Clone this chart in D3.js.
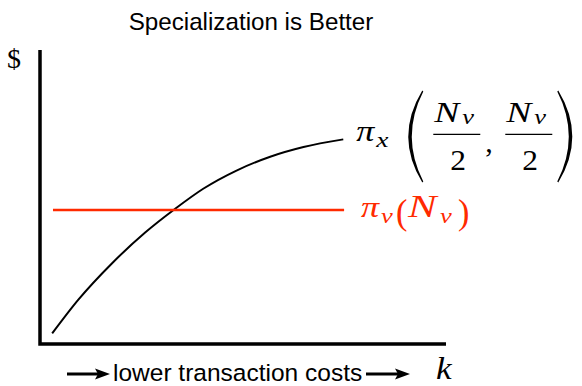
<!DOCTYPE html>
<html>
<head>
<meta charset="utf-8">
<script src="https://cdn.jsdelivr.net/npm/d3@7"></script>
<style>
	body { margin: 0; background: #fff; }
	svg { display: block; }
	.sans { font-family: "Liberation Sans", Arial, Helvetica, sans-serif; }
	.math { font-family: "Liberation Serif", "DejaVu Serif", serif; }
</style>
</head>
<body>
<svg id="chart" width="582" height="386"></svg>
<script>
// transaction-cost axis (k) and the payoff of specialization
const kValues = [0.30, 0.94, 1.77, 2.59, 3.33, 4.02, 4.84, 5.67, 6.49, 7.47];
const specialValues = [0.36, 1.50, 2.74, 3.79, 4.60, 5.28, 5.90, 6.37, 6.70, 6.96];
// vertical integration payoff is flat in k
const vertKRange = [0.32, 7.49];
const vertValue = 4.56;

const title = "Specialization is Better";
const xLabel = "lower transaction costs";

const svg = d3.select("#chart");

const x = d3.scaleLinear().domain([0, 10]).range([40, 446]);
const y = d3.scaleLinear().domain([0, 10]).range([344, 50]);

const RED = "#ff2a00";

// title
svg.append("text")
	.attr("class", "sans")
	.attr("x", 251).attr("y", 30)
	.attr("text-anchor", "middle")
	.style("font-size", "24.2px")
	.text(title);

// axes: plain L shaped frame, no ticks
svg.append("path")
	.attr("d", "M" + x(0) + "," + y(10) + " V" + y(0) + " H" + x(10))
	.attr("fill", "none")
	.attr("stroke", "#000")
	.attr("stroke-width", 3.5);

// the two payoff lines
const line = d3.line()
	.x((d, i) => x(kValues[i]))
	.y(d => y(d))
	.curve(d3.curveMonotoneX);

svg.append("path")
	.datum(specialValues)
	.attr("d", line)
	.attr("fill", "none")
	.attr("stroke", "#000")
	.attr("stroke-width", 2);

svg.append("line")
	.attr("x1", x(vertKRange[0])).attr("x2", x(vertKRange[1]))
	.attr("y1", y(vertValue)).attr("y2", y(vertValue))
	.attr("stroke", RED)
	.attr("stroke-width", 2.5);

// one math glyph; sx widens the Times-like letters towards Computer Modern
function glyph(g, ch, gx, gy, size, italic, sx) {
	return g.append("text")
		.attr("transform", "translate(" + gx + "," + gy + ") scale(" + (sx || 1) + ",1)")
		.style("font-size", size + "px")
		.style("font-style", italic ? "italic" : "normal")
		.text(ch);
}

// $ label
glyph(svg.append("g").attr("class", "math"), "$", 7, 68, 28, false, 1);

// --- label of the specialization curve: pi_x(N_v/2, N_v/2)
const endX = x(kValues[kValues.length - 1]);
const endY = y(specialValues[specialValues.length - 1]);
const bx = endX + 13, by = endY + 2;   // baseline of pi
const barY = by - 7;                    // fraction bars

const lab = svg.append("g").attr("class", "math").attr("fill", "#000");

glyph(lab, "π", bx, by, 30, true, 1.2);
glyph(lab, "x", bx + 20, by + 6, 22, true, 1.25);

function paren(g, ex, dir, top, bot) {
	// thin crescent: ex = x of the two tips, dir -1 for "(", +1 for ")"
	const mid = (top + bot) / 2;
	const co = ex + dir * 28, ci = ex + dir * 22;
	g.append("path")
		.attr("d", "M" + ex + "," + top +
			" Q" + co + "," + mid + " " + ex + "," + bot +
			" L" + (ex - dir * 1) + "," + (bot - 1) +
			" Q" + ci + "," + mid + " " + (ex - dir * 1) + "," + (top + 1) + " Z");
}

function fraction(left) {
	glyph(lab, "N", left + 1, barY - 12, 30, true, 1.25);
	glyph(lab, "v", left + 29, barY - 10, 22, true, 1.2);
	lab.append("line")
		.attr("x1", left).attr("x2", left + 47)
		.attr("y1", barY).attr("y2", barY)
		.attr("stroke", "#000").attr("stroke-width", 1.3);
	glyph(lab, "2", left + 17, barY + 36, 30, false, 1.05);
}

paren(lab, bx + 66, -1, barY - 44, barY + 48);
fraction(bx + 77);
glyph(lab, ",", bx + 129, barY + 18, 30, false, 1);
fraction(bx + 149);
paren(lab, bx + 202, 1, barY - 44, barY + 48);

// --- label of the vertical integration line: pi_v(N_v)
const rx = x(vertKRange[1]) + 17, ry = y(vertValue) + 7;
const red = svg.append("g").attr("class", "math").attr("fill", RED);
glyph(red, "π", rx, ry, 30, true, 1.2);
glyph(red, "v", rx + 20, ry + 6, 22, true, 1.2);
glyph(red, "(", rx + 35, ry + 7, 36, false, 0.95);
glyph(red, "N", rx + 47, ry, 31, true, 1.38);
glyph(red, "v", rx + 79, ry + 6, 22, true, 1.2);
glyph(red, ")", rx + 97, ry + 7, 36, false, 0.95);

// --- x axis caption with arrows
const capY = 381, arrowY = capY - 7;

function arrow(x1, x2) {
	svg.append("line")
		.attr("x1", x1).attr("x2", x2 - 10)
		.attr("y1", arrowY).attr("y2", arrowY)
		.attr("stroke", "#000").attr("stroke-width", 3);
	svg.append("path")
		.attr("d", "M" + x2 + "," + arrowY + " L" + (x2 - 15) + "," + (arrowY - 5.5) +
			" L" + (x2 - 12) + "," + arrowY + " L" + (x2 - 15) + "," + (arrowY + 5.5) + " Z")
		.attr("fill", "#000");
}

arrow(67, 110);

svg.append("text")
	.attr("class", "sans")
	.attr("x", 113).attr("y", capY)
	.style("font-size", "24.5px")
	.text(xLabel);

arrow(366, 410);

glyph(svg.append("g").attr("class", "math"), "k", 436, 379, 32, true, 1.1);
</script>
</body>
</html>
